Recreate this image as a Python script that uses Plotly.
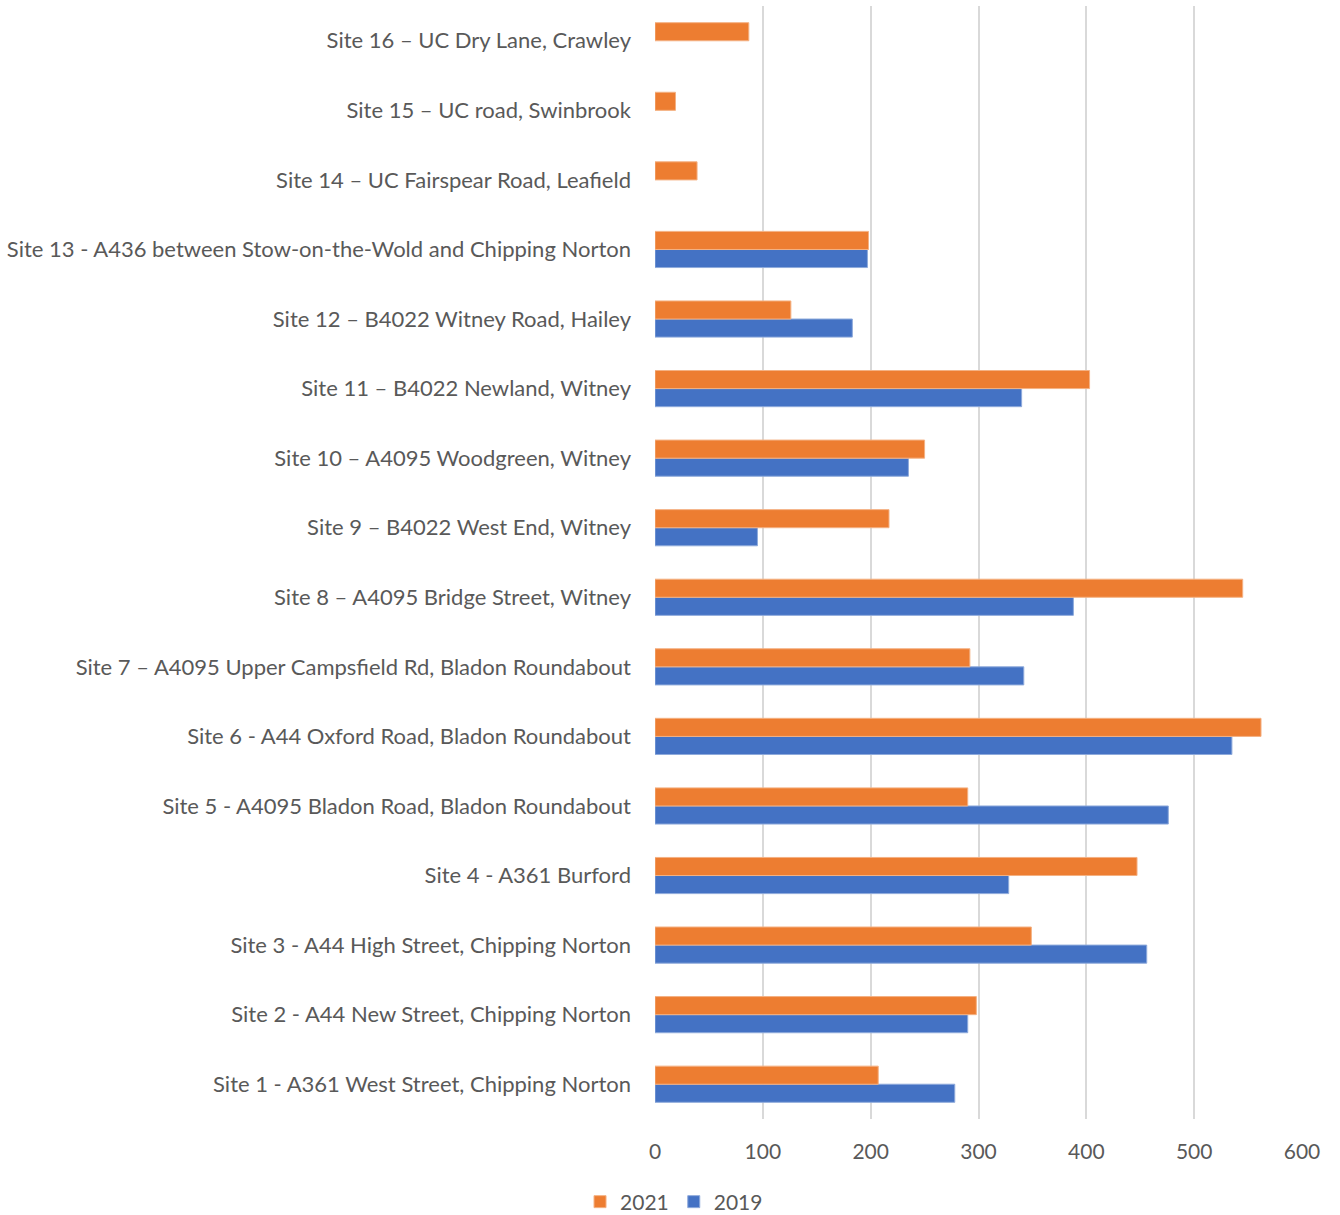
import plotly.graph_objects as go

sites = [
    "Site 1 - A361 West Street, Chipping Norton",
    "Site 2 - A44 New Street, Chipping Norton",
    "Site 3 - A44 High Street, Chipping Norton",
    "Site 4 - A361 Burford",
    "Site 5 - A4095 Bladon Road, Bladon Roundabout",
    "Site 6 - A44 Oxford Road, Bladon Roundabout",
    "Site 7 \u2013 A4095 Upper Campsfield Rd, Bladon Roundabout",
    "Site 8 \u2013 A4095 Bridge Street, Witney",
    "Site 9 \u2013 B4022 West End, Witney",
    "Site 10 \u2013 A4095 Woodgreen, Witney",
    "Site 11 \u2013 B4022 Newland, Witney",
    "Site 12 \u2013 B4022 Witney Road, Hailey",
    "Site 13 - A436 between Stow-on-the-Wold and Chipping Norton",
    "Site 14 \u2013 UC Fairspear Road, Leafield",
    "Site 15 \u2013 UC road, Swinbrook",
    "Site 16 \u2013 UC Dry Lane, Crawley",
]
values_2021 = [207, 298, 349, 447, 290, 562, 292, 545, 217, 250, 403, 126, 198, 39, 19, 87]
values_2019 = [278, 290, 456, 328, 476, 535, 342, 388, 95, 235, 340, 183, 197, None, None, None]

ORANGE = "#ED7D31"
BLUE = "#4472C4"
TEXT = "#595959"
FONT = "Lato"

fig = go.Figure()
fig.add_trace(go.Bar(
    y=sites, x=values_2019, name="2019", orientation="h",
    marker=dict(color=BLUE, line=dict(color="#8eaadb", width=1)),
))
fig.add_trace(go.Bar(
    y=sites, x=values_2021, name="2021", orientation="h",
    marker=dict(color=ORANGE, line=dict(color="#f4b183", width=1)),
))

fig.update_layout(
    width=1340, height=1215,
    margin=dict(l=655, r=38, t=6, b=96, autoexpand=False),
    barmode="group", bargap=0.48, bargroupgap=0,
    plot_bgcolor="white", paper_bgcolor="white",
    font=dict(family=FONT, size=21, color=TEXT),
    showlegend=True,
    legend=dict(
        orientation="h", x=0.503, xref="container", xanchor="center",
        y=0.0107, yref="container", yanchor="middle", traceorder="reversed",
        font=dict(family=FONT, size=21, color=TEXT),
        itemwidth=30,
    ),
    xaxis=dict(
        range=[0, 600], dtick=100, showgrid=True, gridcolor="#d9d9d9",
        gridwidth=2, zeroline=False, showline=False, ticks="",
        tickfont=dict(family=FONT, size=21, color=TEXT),
        ticklabelstandoff=18,
    ),
    yaxis=dict(
        categoryorder="array", categoryarray=sites,
        showgrid=False, zeroline=False, showline=False, ticks="",
        tickfont=dict(family=FONT, size=22, color=TEXT),
        ticklabelstandoff=23,
    ),
)

fig.write_html("out.html", config={"displayModeBar": False},
               post_script="document.body.style.margin='0';")
